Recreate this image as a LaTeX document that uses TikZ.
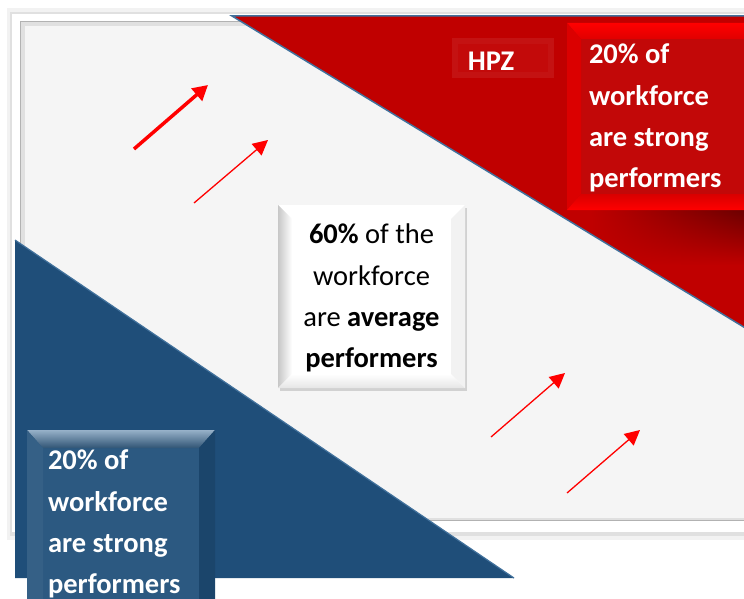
\documentclass[tikz,border=0pt]{standalone}
\usepackage{fontspec}
\setmainfont{Carlito}
\usepackage{tikz}
\usetikzlibrary{arrows.meta,calc,positioning,shadows,fadings}
\definecolor{hpzred}{HTML}{C00000}
\definecolor{brightred}{HTML}{FF0000}
\definecolor{navy}{HTML}{1F4E79}
\definecolor{edgeblue}{HTML}{41719C}
\definecolor{panel}{HTML}{F5F5F5}
\tikzfading[name=fadeleft, left color=transparent!100, right color=transparent!0]
\tikzstyle{invis} = [draw=none, inner sep=0pt, outer sep=0pt]
\tikzstyle{box} = [invis, anchor=north west]
\tikzstyle{whitetext} = [invis, align=left, text=white, font=\fontsize{28.5}{41.3}\selectfont\bfseries]
\tikzstyle{blacktext} = [invis, align=center, text=black, font=\fontsize{28.5}{41.3}\selectfont]
\tikzstyle{thinarrow} = [-{Triangle[length=15pt,width=15pt]}, draw=red, line width=1.3pt]
\tikzstyle{thickarrow} = [-{Triangle[length=15pt,width=16pt]}, draw=red, line width=3.5pt]

\begin{document}
\begin{tikzpicture}[x=1pt,y=-1pt]
\useasboundingbox (0,0) rectangle (744,599);
\clip (0,0) rectangle (744,599);

% frame
\fill[black!5] (7,8) rectangle (770,540);
\fill[black!12] (10,12) rectangle (770,536);
\fill[white] (12,14) rectangle (770,532);
\fill[black!30] (20,21) rectangle (770,521);
\fill[black!12] (21,22) rectangle (770,520);
\fill[panel] (25,26) rectangle (770,518);

% red zone
\fill[hpzred] (232,16) -- (770,16) -- (770,343) -- cycle;
\begin{scope}
\clip (232,16) -- (770,16) -- (770,343) -- cycle;
\shade[top color=hpzred!50!black, bottom color=hpzred, path fading=fadeleft] (590,211) rectangle (770,265);
\end{scope}
\draw[edgeblue, line width=1.5pt] (770,16) -- (232,16) -- (770,343);

% blue zone
\fill[navy] (15,240) -- (15,578) -- (514,578) -- cycle;
\draw[edgeblue, line width=1.2pt] (15,240) -- (514,578);

% boxes
\node[box, minimum width=200pt, minimum height=187pt, fill=hpzred!97!white] (strong) at (567,23) {};
\shade[top color=brightred, bottom color=red!88!black] (strong.north west) -- (strong.north east) -- ($(strong.north east)+(-14,16)$) -- ($(strong.north west)+(14,16)$) -- cycle;
\fill[red!86!black] (strong.north west) -- ($(strong.north west)+(14,16)$) -- ($(strong.south west)+(14,-16)$) -- (strong.south west) -- cycle;
\shade[top color=red!85!black, bottom color=brightred] (strong.south west) -- (strong.south east) -- ($(strong.south east)+(-14,-16)$) -- ($(strong.south west)+(14,-16)$) -- cycle;

\node[box, minimum width=102pt, minimum height=40pt, fill=hpzred!93!white] (hpz) at (452,38) {};
\fill[hpzred!96!white] ($(hpz.north west)+(6,6)$) rectangle ($(hpz.south east)+(-6,-6)$);

\node[box, minimum width=188pt, minimum height=190pt, fill=navy!94!white] (weak) at (27,430) {};
\shade[top color=edgeblue!55!white, bottom color=edgeblue!75!black] (weak.north west) -- (weak.north east) -- ($(weak.north east)+(-16,18)$) -- ($(weak.north west)+(16,18)$) -- cycle;
\fill[navy!90!white] (weak.north west) -- ($(weak.north west)+(16,18)$) -- ($(weak.south west)+(16,0)$) -- (weak.south west) -- cycle;
\fill[navy!88!black] (weak.north east) -- ($(weak.north east)+(-16,18)$) -- ($(weak.south east)+(-16,0)$) -- (weak.south east) -- cycle;

\node[box, minimum width=187pt, minimum height=183pt, fill=white,
  drop shadow={opacity=0.3, shadow xshift=2pt, shadow yshift=-3pt}] (avg) at (278,205) {};
\shade[left color=black!22, right color=white] (avg.north west) -- ($(avg.north west)+(14,14)$) -- ($(avg.south west)+(14,-14)$) -- (avg.south west) -- cycle;
\shade[top color=white, bottom color=black!10] (avg.south west) -- ($(avg.south west)+(14,-14)$) -- ($(avg.south east)+(-14,-14)$) -- (avg.south east) -- cycle;
\fill[black!5] (avg.north east) -- ($(avg.north east)+(-14,14)$) -- ($(avg.south east)+(-14,-14)$) -- (avg.south east) -- cycle;

% texts
\node[whitetext, anchor=base] (hpztxt) at (491,71) {HPZ};
\node[whitetext, anchor=north west] (strongtxt) at ($(strong.north west)+(22,21)$) {20\% of\\workforce\\are strong\\performers};
\node[whitetext, anchor=north west] (weaktxt) at ($(weak.north west)+(21,20)$) {20\% of\\workforce\\are strong\\performers};
\node[blacktext, anchor=north] (avgtxt) at ($(avg.north)+(0,19)$) {\textbf{60\%} of the\\workforce\\are \textbf{average}\\\textbf{performers}};

% arrows
\coordinate (t1) at (134,149); \coordinate (h1) at (208,85);
\coordinate (t2) at (194,203); \coordinate (h2) at (268,140);
\coordinate (t3) at (491,437); \coordinate (h3) at (565,373);
\coordinate (t4) at (567,493); \coordinate (h4) at (640,430);

\path
(t1) edge [thickarrow] (h1)
(t2) edge [thinarrow] (h2)
(t3) edge [thinarrow] (h3)
(t4) edge [thinarrow] (h4);

\end{tikzpicture}
\end{document}
